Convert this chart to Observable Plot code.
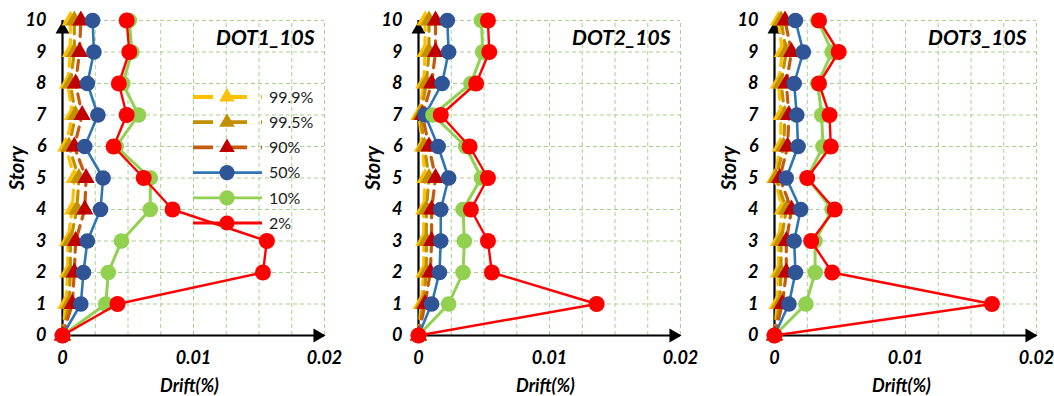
<!DOCTYPE html>
<html>
<head>
<meta charset="utf-8">
<script src="https://cdn.jsdelivr.net/npm/d3@7"></script>
<script src="https://cdn.jsdelivr.net/npm/@observablehq/plot@0.6"></script>
<style>
  html, body { margin: 0; padding: 0; background: #fff; overflow: hidden; }
  #wrap { position: relative; width: 1054px; height: 396px; font-family: Lato, "Liberation Sans", sans-serif; }
  .panel { position: absolute; top: 0; }
  #legend { position: absolute; left: 0; top: 0; pointer-events: none; }
</style>
</head>
<body>
<div id="wrap"></div>
<script>
// ---- data ----
const stories = [0, 1, 2, 3, 4, 5, 6, 7, 8, 9, 10];
const storyTicks = [0, 1, 2, 3, 4, 5, 6, 7, 8, 9, 10];
const xTicks = [0, 0.01, 0.02];
const xGrid = [0.0025, 0.005, 0.0075, 0.01, 0.0125, 0.015, 0.0175, 0.02];
const xDomain = [0, 0.02];
const panelNames = ["DOT1_10S", "DOT2_10S", "DOT3_10S"];
const seriesLabels = ["99.9%", "99.5%", "90%", "50%", "10%", "2%"];

// DOT1_10S
const dot1_p999 = [0, 0.00025, 0.0004, 0.0004, 0.00075, 0.0009, 0.00025, 0.00075, 0.0004, 0.0006, 0.0006];
const dot1_p995 = [0, 0.0005, 0.0006, 0.0006, 0.0011, 0.00125, 0.0005, 0.001, 0.0006, 0.0009, 0.0009];
const dot1_p90  = [0, 0.00075, 0.0009, 0.001, 0.0017, 0.0018, 0.0009, 0.0015, 0.001, 0.0013, 0.0014];
const dot1_p50  = [0, 0.0014, 0.0016, 0.0019, 0.0029, 0.0031, 0.0017, 0.0027, 0.0019, 0.0024, 0.0023];
const dot1_p10  = [0, 0.0033, 0.0035, 0.0045, 0.0067, 0.0067, 0.0041, 0.0058, 0.0046, 0.0053, 0.0051];
const dot1_p2   = [0, 0.0042, 0.0153, 0.0156, 0.0084, 0.0062, 0.0039, 0.0049, 0.0043, 0.0051, 0.0049];

// DOT2_10S
const dot2_p999 = [0, 0.0002, 0.0004, 0.0004, 0.0004, 0.0005, 0.0003, 0.00003, 0.0004, 0.0005, 0.0005];
const dot2_p995 = [0, 0.00035, 0.0006, 0.0006, 0.0006, 0.0008, 0.00045, 0.00015, 0.0006, 0.0008, 0.0008];
const dot2_p90  = [0, 0.0005, 0.0009, 0.001, 0.001, 0.0013, 0.0008, 0.0003, 0.001, 0.0013, 0.0013];
const dot2_p50  = [0, 0.001, 0.0016, 0.0017, 0.0017, 0.0023, 0.0015, 0.0005, 0.0018, 0.0023, 0.0022];
const dot2_p10  = [0, 0.0023, 0.0034, 0.0035, 0.0034, 0.0048, 0.0036, 0.0011, 0.004, 0.0049, 0.0048];
const dot2_p2   = [0, 0.0136, 0.0056, 0.0053, 0.004, 0.0053, 0.0039, 0.0017, 0.0044, 0.0054, 0.0053];

// DOT3_10S
const dot3_p999 = [0, 0.0002, 0.0003, 0.0003, 0.0006, 0.00002, 0.00045, 0.0005, 0.0003, 0.0006, 0.0003];
const dot3_p995 = [0, 0.0004, 0.0005, 0.0005, 0.0009, 0.00013, 0.0007, 0.0008, 0.0005, 0.0009, 0.0005];
const dot3_p90  = [0, 0.0006, 0.0009, 0.0009, 0.0013, 0.0004, 0.001, 0.0011, 0.0009, 0.0013, 0.0008];
const dot3_p50  = [0, 0.0011, 0.0016, 0.0015, 0.002, 0.0009, 0.0018, 0.0017, 0.0015, 0.0022, 0.0016];
const dot3_p10  = [0, 0.0024, 0.0031, 0.0031, 0.0044, 0.0025, 0.0037, 0.0036, 0.0033, 0.0044, 0.0033];
const dot3_p2   = [0, 0.0166, 0.0044, 0.0028, 0.0046, 0.0025, 0.0043, 0.0042, 0.0034, 0.0049, 0.0034];

const panelData = [
  [dot1_p999, dot1_p995, dot1_p90, dot1_p50, dot1_p10, dot1_p2],
  [dot2_p999, dot2_p995, dot2_p90, dot2_p50, dot2_p10, dot2_p2],
  [dot3_p999, dot3_p995, dot3_p90, dot3_p50, dot3_p10, dot3_p2]
];

// ---- styles ----
const seriesStyle = [
  {line: "#FFC000", mark: "#FFC000", symbol: "triangle", dash: "10,7", width: 3.2, r: 6.4},
  {line: "#BF9000", mark: "#BF9000", symbol: "triangle", dash: "10,7", width: 3.2, r: 6.4},
  {line: "#C55A11", mark: "#C00000", symbol: "triangle", dash: "10,7", width: 3.2, r: 6.4},
  {line: "#2E75B6", mark: "#2F5597", symbol: "circle", dash: null, width: 2.6, r: 7.8},
  {line: "#92D050", mark: "#92D050", symbol: "circle", dash: null, width: 3, r: 7.8},
  {line: "#FF0000", mark: "#FF0000", symbol: "circle", dash: null, width: 2.4, r: 8}
];
const legendR = [5.8, 5.8, 5.8, 7.6, 7.6, 7.6];
const gridColor = "#A9D18E";
const FONT = "Lato, 'Liberation Sans', sans-serif";

const wrap = document.getElementById("wrap");
const panelLefts = [0, 356, 712];
const panelWidths = [352, 352, 342];
const panelRightMargins = [28, 28, 18];

panelData.forEach((arrs, p) => {
  const rows = stories.map((s, i) => {
    const o = {story: s};
    arrs.forEach((a, k) => { o["s" + k] = a[i]; });
    return o;
  });
  const marks = [
    Plot.ruleX(xGrid, {y1: storyTicks[0], y2: storyTicks[storyTicks.length - 1], stroke: gridColor, strokeWidth: 1, strokeDasharray: "4,3"}),
    Plot.ruleY(storyTicks.slice(1), {x1: xDomain[0], x2: xDomain[1], stroke: gridColor, strokeWidth: 1, strokeDasharray: "4,3"}),
    Plot.ruleY([storyTicks[0]], {x1: xDomain[0], x2: xDomain[1], stroke: "#000", strokeWidth: 2.2}),
    Plot.ruleX([xDomain[0]], {y1: storyTicks[0], y2: storyTicks[storyTicks.length - 1], stroke: "#000", strokeWidth: 2.2}),
    Plot.dot([{x: xDomain[1], y: storyTicks[0]}], {x: "x", y: "y", symbol: "triangle", rotate: 90, fill: "#000", r: 5.2, dx: -7}),
    Plot.dot([{x: xDomain[0], y: storyTicks[storyTicks.length - 1]}], {x: "x", y: "y", symbol: "triangle", fill: "#000", r: 5.2, dy: 9}),
  ];
  seriesStyle.forEach((st, k) => {
    marks.push(Plot.line(rows, {x: "s" + k, y: "story", stroke: st.line, strokeWidth: st.width, strokeDasharray: st.dash, curve: "linear"}));
    marks.push(Plot.dot(rows, {x: "s" + k, y: "story", symbol: st.symbol, fill: st.mark, r: st.r, stroke: "none"}));
  });
  marks.push(
    Plot.axisY(storyTicks, {tickSize: 0, tickPadding: 16, fontSize: 18, fontWeight: "bold", fontStyle: "italic", label: null, fill: "#000"}),
    Plot.axisX(xTicks, {tickSize: 0, tickPadding: 16, tickFormat: d => String(d), fontSize: 18, fontWeight: "bold", fontStyle: "italic", label: null, fill: "#000"}),
    Plot.text(["Story"], {frameAnchor: "left", dx: -45, dy: -10, rotate: -90, textAnchor: "middle", fontSize: 20, fontWeight: "bold", fontStyle: "italic", fill: "#000"}),
    Plot.text(["Drift(%)"], {frameAnchor: "bottom", dy: 51, dx: -4, textAnchor: "middle", lineAnchor: "middle", fontSize: 18, fontStyle: "italic", fontWeight: "bold", fill: "#000"}),
    Plot.text([panelNames[p]], {frameAnchor: "top-right", dx: -10, dy: 10, textAnchor: "end", lineAnchor: "top", fontSize: 21, fontWeight: "bold", fontStyle: "italic", fill: "#000"})
  );
  const chart = Plot.plot({
    width: panelWidths[p],
    height: 396,
    marginLeft: 62,
    marginRight: panelRightMargins[p],
    marginTop: 20,
    marginBottom: 61,
    x: {domain: xDomain, axis: null},
    y: {domain: [storyTicks[0], storyTicks[storyTicks.length - 1]], axis: null},
    style: {fontFamily: FONT, background: "transparent", overflow: "visible"},
    marks
  });
  const div = document.createElement("div");
  div.className = "panel";
  div.style.left = panelLefts[p] + "px";
  div.appendChild(chart);
  wrap.appendChild(div);
});

// ---- legend (inside first panel) ----
const legendTop = 97, legendStep = 25.2, legendX0 = 193, legendX1 = 262, legendMarkX = 227, legendTextX = 269;
const lg = d3.select(wrap).append("svg").attr("id", "legend").attr("width", 352).attr("height", 396);
seriesLabels.forEach((lab, k) => {
  const st = seriesStyle[k];
  const y = legendTop + k * legendStep;
  lg.append("line").attr("x1", legendX0).attr("x2", legendX1).attr("y1", y).attr("y2", y)
    .attr("stroke", st.line).attr("stroke-width", st.dash ? 3.8 : 2.8)
    .attr("stroke-dasharray", st.dash ? "20,14" : null);
  const sym = st.symbol === "triangle" ? d3.symbolTriangle : d3.symbolCircle;
  lg.append("path").attr("transform", `translate(${legendMarkX},${y})`)
    .attr("d", d3.symbol(sym, Math.PI * legendR[k] * legendR[k])()).attr("fill", st.mark);
  lg.append("text").attr("x", legendTextX).attr("y", y).attr("dy", "0.36em")
    .attr("font-family", FONT).attr("font-size", 16).attr("fill", "#222").text(lab);
});
</script>
</body>
</html>
